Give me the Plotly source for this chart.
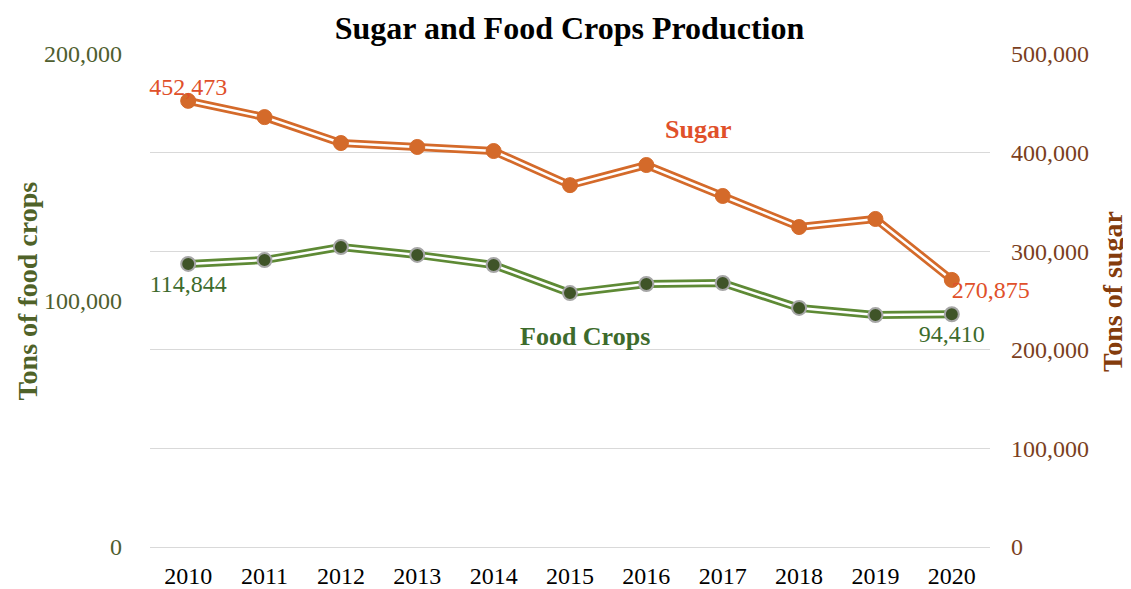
import plotly.graph_objects as go

years = [2010, 2011, 2012, 2013, 2014, 2015, 2016, 2017, 2018, 2019, 2020]
food_crops = [114844, 116400, 121700, 118500, 114400, 103000, 106700, 107100, 97000, 94100, 94410]
sugar = [452473, 436000, 409700, 405700, 401600, 367000, 387400, 356000, 324500, 332700, 270875]

food_labels = ["114,844"] + [""] * 9 + ["94,410"]
sugar_labels = ["452,473"] + [""] * 9 + ["270,875"]

FONT = "Liberation Serif, Times New Roman, serif"
ORANGE = "#D46A2A"
GREEN = "#5E8A35"

fig = go.Figure()

# Food crops (left axis): outer colored line, inner white line, markers
fig.add_trace(go.Scatter(x=years, y=food_crops, mode="lines", yaxis="y",
                         line=dict(color=GREEN, width=8), hoverinfo="skip", showlegend=False))
fig.add_trace(go.Scatter(x=years, y=food_crops, mode="lines+markers+text", yaxis="y",
                         line=dict(color="white", width=2.5),
                         marker=dict(size=14, color="#3F5428", line=dict(color="#A6A6A6", width=2)),
                         text=food_labels, textposition="bottom center", cliponaxis=False,
                         textfont=dict(family=FONT, size=24, color="#3D6B2C"),
                         name="Food Crops", showlegend=False))

# Sugar (right axis)
fig.add_trace(go.Scatter(x=years, y=sugar, mode="lines", yaxis="y2",
                         line=dict(color=ORANGE, width=8), hoverinfo="skip", showlegend=False))
fig.add_trace(go.Scatter(x=years, y=sugar, mode="lines+markers", yaxis="y2",
                         line=dict(color="white", width=2.5),
                         marker=dict(size=15, color=ORANGE, line=dict(color=ORANGE, width=1)),
                         name="Sugar", showlegend=False))
fig.add_trace(go.Scatter(x=years[:1], y=sugar[:1], mode="text", yaxis="y2",
                         text=sugar_labels[:1], textposition="top center", cliponaxis=False,
                         textfont=dict(family=FONT, size=24, color="#E0502A"),
                         showlegend=False, hoverinfo="skip"))
fig.add_trace(go.Scatter(x=years[-1:], y=sugar[-1:], mode="text", yaxis="y2",
                         text=sugar_labels[-1:], textposition="bottom right", cliponaxis=False,
                         textfont=dict(family=FONT, size=24, color="#E0502A"),
                         showlegend=False, hoverinfo="skip"))

# The page body adds an 8px margin, so the figure is 8px smaller with shifted margins
fig.update_layout(
    width=1123, height=581,
    margin=dict(l=142, r=141, t=46, b=42),
    paper_bgcolor="white", plot_bgcolor="white",
    font=dict(family=FONT),
    title=dict(text="<b>Sugar and Food Crops Production</b>", x=0.5, xanchor="center",
               y=0.9656, yref="container", yanchor="middle",
               font=dict(family=FONT, size=32, color="black")),
    xaxis=dict(range=[2009.5, 2020.5], tickvals=years, ticktext=[str(y) for y in years],
               showgrid=False, zeroline=False, showline=False, automargin=False,
               tickfont=dict(family=FONT, size=24, color="black"), ticklabelstandoff=12),
    yaxis=dict(range=[0, 200000], tickvals=[0, 100000, 200000], tickformat=",",
               showgrid=False, zeroline=False, showline=False, automargin=False,
               tickfont=dict(family=FONT, size=24, color="#4F5E2E"), ticklabelstandoff=27),
    yaxis2=dict(range=[0, 500000], dtick=100000, tickformat=",", overlaying="y", side="right",
                showgrid=True, gridcolor="#D9D9D9", gridwidth=1.3, automargin=False,
                zeroline=True, zerolinecolor="#D9D9D9", zerolinewidth=1.3, showline=False,
                tickfont=dict(family=FONT, size=24, color="#7B3F1E"), ticklabelstandoff=20),
    annotations=[
        dict(text="<b>Tons of food crops</b>", x=-0.146, y=0.519, xref="paper", yref="paper",
             textangle=-90, showarrow=False, xanchor="center", yanchor="middle",
             font=dict(family=FONT, size=28, color="#4F6228")),
        dict(text="<b>Tons of sugar</b>", x=1.145, y=0.519, xref="paper", yref="paper",
             textangle=-90, showarrow=False, xanchor="center", yanchor="middle",
             font=dict(family=FONT, size=28, color="#843C0C")),
        dict(text="<b>Sugar</b>", x=2016.68, y=423000, xref="x", yref="y2", showarrow=False,
             font=dict(family=FONT, size=26, color="#E0502A")),
        dict(text="<b>Food Crops</b>", x=2015.2, y=85200, xref="x", yref="y", showarrow=False,
             font=dict(family=FONT, size=26, color="#3D6B2C")),
    ],
)

fig.write_html("out.html")
